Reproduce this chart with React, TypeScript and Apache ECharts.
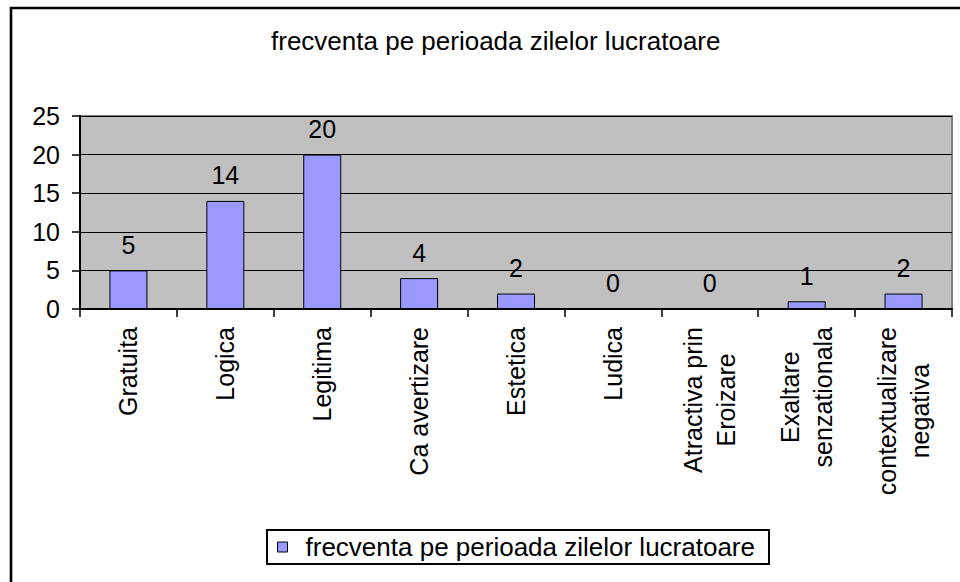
import React, { useEffect, useRef } from "react";
import * as echarts from "echarts";

const titleText = "frecventa pe perioada zilelor lucratoare";
const seriesName = "frecventa pe perioada zilelor lucratoare";
const categories = [
  "Gratuita",
  "Logica",
  "Legitima",
  "Ca avertizare",
  "Estetica",
  "Ludica",
  "Atractiva prin\nEroizare",
  "Exaltare\nsenzationala",
  "contextualizare\nnegativa",
];
const values = [5, 14, 20, 4, 2, 0, 0, 1, 2];
const yMin = 0;
const yMax = 25;
const yInterval = 5;

const FONT = "'Liberation Sans', Arial, sans-serif";

export default function App() {
  const ref = useRef<HTMLDivElement>(null);
  useEffect(() => {
    if (!ref.current) return;
    const chart = echarts.init(ref.current, undefined, { renderer: "svg" });
    chart.setOption({
      animation: false,
      backgroundColor: "#ffffff",
      textStyle: { fontFamily: FONT, color: "#000" },
      title: {
        text: titleText,
        left: 271,
        top: 28,
        padding: 0,
        textStyle: { fontFamily: FONT, fontSize: 26, fontWeight: "normal", color: "#000" },
      },
      graphic: [
        {
          type: "rect",
          left: 8.5,
          top: 5.5,
          shape: { x: 0, y: 0, width: 1000, height: 1000 },
          style: { fill: "none", stroke: "#000", lineWidth: 2.6 },
          silent: true,
          z: 100,
        },
      ],
      legend: {
        left: 267,
        top: 530,
        orient: "horizontal",
        padding: [4, 14, 4, 10],
        borderColor: "#000",
        borderWidth: 2,
        backgroundColor: "#fff",
        itemWidth: 10,
        itemHeight: 10,
        icon: "rect",
        itemStyle: { color: "#9999FF", borderColor: "#000", borderWidth: 1 },
        textStyle: { fontFamily: FONT, fontSize: 26, color: "#000", padding: [0, 0, 0, 13] },
        data: [seriesName],
      },
      grid: {
        left: 80,
        right: 8,
        top: 116,
        bottom: 273,
        show: true,
        backgroundColor: "#C0C0C0",
        borderColor: "#808080",
        borderWidth: 2,
      },
      xAxis: {
        type: "category",
        data: categories,
        axisLine: { show: true, lineStyle: { color: "#000", width: 2 } },
        axisTick: { show: true, length: 8, lineStyle: { color: "#000", width: 1.5 } },
        axisLabel: {
          rotate: 90,
          margin: 18,
          interval: 0,
          fontFamily: FONT,
          fontSize: 25,
          color: "#000",
          formatter: (v: string) =>
            v
              .split("\n")
              .map((s) => "{c|" + s + "}")
              .join("\n"),
          rich: {
            c: { align: "center", fontFamily: FONT, fontSize: 25, lineHeight: 33, color: "#000" },
          },
        },
        splitLine: { show: false },
      },
      yAxis: {
        type: "value",
        min: yMin,
        max: yMax,
        interval: yInterval,
        axisLine: { show: true, lineStyle: { color: "#000", width: 2 } },
        axisTick: { show: true, length: 8, lineStyle: { color: "#000", width: 1.5 } },
        axisLabel: { margin: 20, fontFamily: FONT, fontSize: 25, color: "#000" },
        splitLine: { show: true, lineStyle: { color: "#000", width: 1 } },
      },
      series: [
        {
          name: seriesName,
          type: "bar",
          data: values,
          barWidth: 38,
          itemStyle: { color: "#9999FF", borderColor: "#000", borderWidth: 1 },
          label: {
            show: true,
            position: "top",
            distance: 13,
            fontFamily: FONT,
            fontSize: 25,
            color: "#000",
          },
        },
      ],
    });
    return () => chart.dispose();
  }, []);
  return (
    <div
      ref={ref}
      style={{ position: "fixed", left: 0, top: 0, width: 960, height: 582 }}
    />
  );
}
